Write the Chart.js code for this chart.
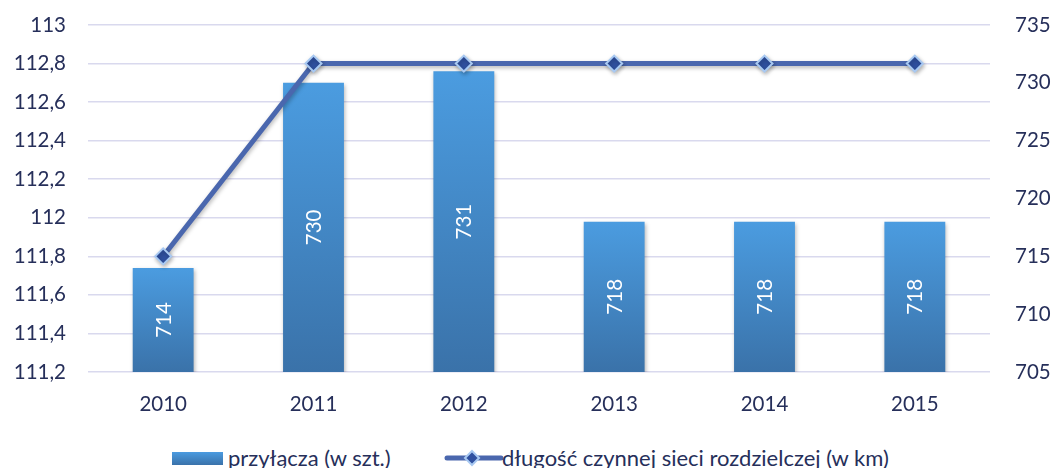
<!DOCTYPE html>
<html>
<head>
<meta charset="utf-8">
<script src="https://cdn.jsdelivr.net/npm/chart.js@4.4.1/dist/chart.umd.min.js"></script>
<style>
  html, body { margin: 0; padding: 0; background: #ffffff; }
  #wrap { position: relative; width: 1051px; height: 468px; }
  #c { position: absolute; left: 0; top: 0; }
  #legend { position: absolute; left: 0; top: 446px; width: 1051px; height: 22px;
    font-family: Lato, "Open Sans", sans-serif; font-size: 22px; color: #262f5a; }
  .item { position: absolute; top: 0; line-height: 24px; white-space: nowrap; }
  .sw { position: absolute; }
</style>
</head>
<body>
<div id="wrap">
  <canvas id="c" width="1051" height="422"></canvas>
  <div id="legend">
    <div class="item" id="leg1" style="left:172px;">
      <span class="sw" style="left:0; top:6px; width:51px; height:13px; background:linear-gradient(#4b9be0,#3a72aa);"></span>
      <span style="position:absolute; left:56px; top:0;" id="leg1t"></span>
    </div>
    <div class="item" id="leg2" style="left:444px;">
      <svg class="sw" style="left:0; top:2px;" width="60" height="20">
        <line x1="3" y1="10" x2="57" y2="10" stroke="#4a67ae" stroke-width="5" stroke-linecap="round"/>
        <polygon points="28,3 35,10 28,17 21,10" fill="#2f50a0" stroke="#a8c9f2" stroke-width="2"/>
      </svg>
      <span style="position:absolute; left:58px; top:0;" id="leg2t"></span>
    </div>
  </div>
</div>
<script>
const categories = ['2010', '2011', '2012', '2013', '2014', '2015'];
const przylacza = [714, 730, 731, 718, 718, 718];
const dlugoscSieci = [111.8, 112.8, 112.8, 112.8, 112.8, 112.8];
const seriesNames = ['przyłącza (w szt.)', 'długość czynnej sieci rozdzielczej (w km)'];
const leftTicks = [111.2, 111.4, 111.6, 111.8, 112, 112.2, 112.4, 112.6, 112.8, 113];
const rightTicks = [705, 710, 715, 720, 725, 730, 735];

document.getElementById('leg1t').textContent = seriesNames[0];
document.getElementById('leg2t').textContent = seriesNames[1];

const FONT = 'Lato, "Open Sans", sans-serif';
const TXT = '#262f5a';
const TICK_SIZE = 20.5;

function fmtPl(v) { return String(v).replace('.', ','); }

const shadowPlugin = {
  id: 'shadowPlugin',
  beforeDatasetDraw(chart) {
    const ctx = chart.ctx;
    ctx.save();
    ctx.shadowColor = 'rgba(0,0,0,0.28)';
    ctx.shadowBlur = 4;
    ctx.shadowOffsetX = 1;
    ctx.shadowOffsetY = 2;
  },
  afterDatasetDraw(chart) {
    chart.ctx.restore();
  }
};

const labelPlugin = {
  id: 'barLabels',
  afterDraw(chart) {
    const xs = chart.scales.x;
    const ys = chart.scales.y1;
    const ctx = chart.ctx;
    ctx.save();
    ctx.shadowColor = 'rgba(0,0,0,0)';
    ctx.fillStyle = '#ffffff';
    ctx.font = TICK_SIZE + 'px ' + FONT;
    ctx.textAlign = 'center';
    ctx.textBaseline = 'middle';
    for (let i = 0; i < przylacza.length; i++) {
      const x = xs.getPixelForValue(i);
      const top = ys.getPixelForValue(przylacza[i]);
      const bottom = ys.getPixelForValue(ys.min);
      const cy = (top + bottom) / 2;
      ctx.save();
      ctx.translate(x, cy);
      ctx.rotate(-Math.PI / 2);
      ctx.fillText(String(przylacza[i]), 0, 1);
      ctx.restore();
    }
    ctx.restore();
  }
};

function barGradient(context) {
  const chart = context.chart;
  const s = chart.scales && chart.scales.y1;
  if (!s || context.type !== 'data') return '#4388cc';
  const top = s.getPixelForValue(przylacza[context.dataIndex]);
  const bottom = s.getPixelForValue(s.min);
  if (!isFinite(top) || !isFinite(bottom) || top === bottom) return '#4388cc';
  const g = chart.ctx.createLinearGradient(0, top, 0, bottom);
  g.addColorStop(0, '#4b9ce0');
  g.addColorStop(1, '#3a72a9');
  return g;
}

function fixVertical(width) {
  return function (scale) {
    scale.width = width;
    scale.paddingTop = 0;
    scale.paddingBottom = 0;
  };
}

new Chart(document.getElementById('c'), {
  data: {
    labels: categories,
    datasets: [
      {
        type: 'bar',
        label: seriesNames[0],
        data: przylacza,
        yAxisID: 'y1',
        backgroundColor: barGradient,
        borderWidth: 0,
        barPercentage: 0.405,
        categoryPercentage: 1,
        order: 1
      },
      {
        type: 'line',
        label: seriesNames[1],
        data: dlugoscSieci,
        yAxisID: 'y',
        borderColor: '#4a67ae',
        borderWidth: 5,
        pointStyle: 'rectRot',
        pointRadius: 8,
        pointBackgroundColor: '#2f50a0',
        pointBorderColor: '#a8c9f2',
        pointBorderWidth: 2,
        tension: 0,
        order: 0
      }
    ]
  },
  options: {
    responsive: false,
    animation: false,
    events: [],
    layout: { padding: { top: 25, bottom: 0, left: 0, right: 0 } },
    plugins: { legend: { display: false }, tooltip: { enabled: false } },
    scales: {
      x: {
        offset: true,
        grid: { display: false, drawTicks: false },
        border: { display: false },
        ticks: { color: TXT, font: { family: FONT, size: TICK_SIZE }, padding: 20 },
        afterFit(scale) { scale.height = 50; scale.paddingLeft = 0; scale.paddingRight = 0; }
      },
      y: {
        position: 'left',
        min: 111.2,
        max: 113,
        afterBuildTicks(scale) { scale.ticks = leftTicks.map(v => ({ value: v })); },
        grid: { color: '#d9d9ee', lineWidth: 1.5, drawTicks: false },
        border: { display: false },
        ticks: { color: TXT, font: { family: FONT, size: TICK_SIZE }, padding: 22,
          callback: v => fmtPl(v) },
        afterFit: fixVertical(88)
      },
      y1: {
        position: 'right',
        min: 705,
        max: 735,
        afterBuildTicks(scale) { scale.ticks = rightTicks.map(v => ({ value: v })); },
        grid: { display: false, drawTicks: false },
        border: { display: false },
        ticks: { color: TXT, font: { family: FONT, size: TICK_SIZE }, padding: 25 },
        afterFit: fixVertical(61)
      }
    }
  },
  plugins: [shadowPlugin, labelPlugin]
});
</script>
</body>
</html>
